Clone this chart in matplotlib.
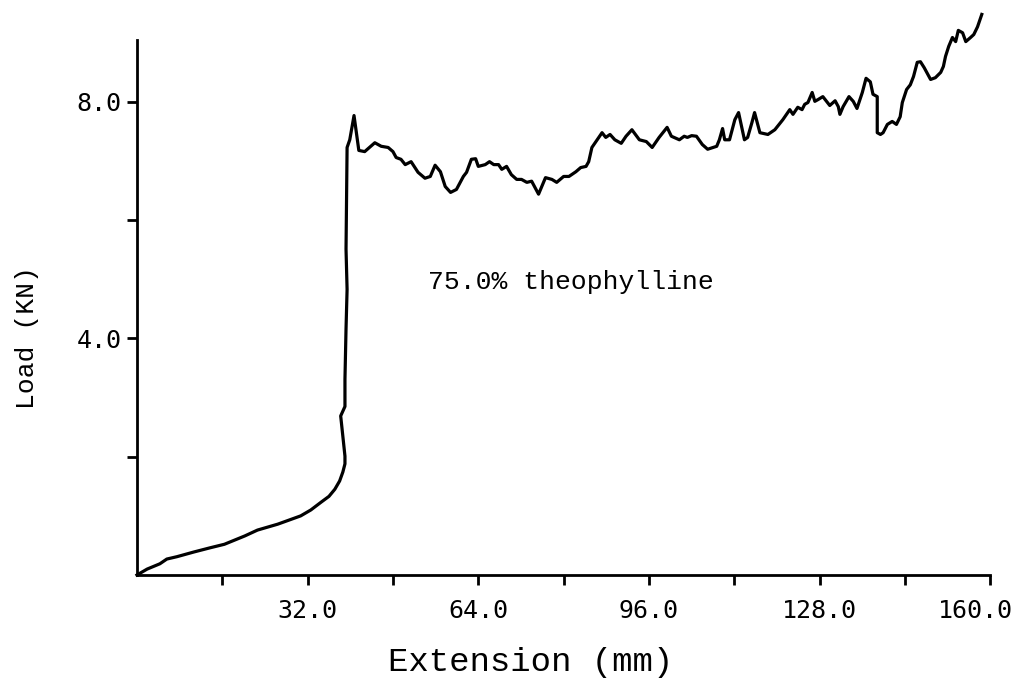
import matplotlib
matplotlib.use('Agg')
import matplotlib.pyplot as plt
from matplotlib.transforms import ScaledTranslation

# extension (mm) / load (kN)
extension = [0, 1.9, 4.3, 5.6, 7.5, 10.7, 13.7, 16.4, 20.2, 22.6, 26.4, 30.7, 32.6, 34.5,
             36.0, 37.1, 38.0, 38.6, 39.0, 39.0, 38.6,
             38.2, 39.0, 39.0, 39.2, 39.4, 39.2, 39.4, 39.9, 40.7, 41.6, 42.7, 44.6, 45.8,
             47.1, 48.0, 48.6, 49.5, 50.3, 51.4, 52.7, 54.0, 55.0, 55.9, 56.9, 57.8, 58.8,
             59.9, 61.2, 61.8, 62.7, 63.5, 64.0, 65.3, 66.1, 66.9, 67.8, 68.4, 69.3, 70.2,
             71.2, 72.1, 73.1, 74.0, 75.3, 76.6, 77.8, 78.7, 80.0, 81.0, 82.3, 83.2, 84.2,
             84.7, 85.3, 86.3, 87.2, 87.9, 88.7, 89.6, 90.8, 91.7, 92.8, 94.2, 95.5, 96.6,
             97.9, 99.4, 100.2, 101.7, 102.6, 103.2, 104.0, 104.9, 106.0, 107.0, 108.7,
             109.2, 109.8, 110.2, 111.1, 112.1, 112.8, 113.9, 114.5, 115.3, 115.8, 116.8,
             118.3, 119.6, 121.1, 122.4, 123.0, 123.9, 124.7, 125.2, 125.8, 126.6, 127.1,
             127.7, 128.6, 129.9, 130.9, 131.5, 131.8, 132.4, 133.5, 134.3, 135.0, 136.0,
             136.7, 137.5, 138.0, 138.8, 138.8, 139.4, 139.9, 140.7, 141.6, 142.4, 143.1,
             143.5, 144.3, 145.0, 145.6, 146.3, 146.9, 147.6, 148.8, 149.7, 150.7, 151.2,
             151.6, 152.2, 152.9, 153.5, 154.0, 154.8, 155.4, 156.3, 156.9, 157.6, 158.4]
load = [0, 0.10, 0.19, 0.27, 0.31, 0.39, 0.46, 0.52, 0.66, 0.76, 0.86, 1.00, 1.10, 1.23,
        1.33, 1.45, 1.59, 1.74, 1.88, 2.01, 2.35,
        2.69, 2.85, 3.31, 4.16, 4.83, 5.51, 7.23, 7.36, 7.77, 7.18, 7.16, 7.31, 7.25,
        7.23, 7.16, 7.06, 7.03, 6.94, 6.99, 6.81, 6.71, 6.74, 6.93, 6.82, 6.57, 6.47,
        6.52, 6.74, 6.81, 7.03, 7.04, 6.91, 6.94, 6.99, 6.94, 6.94, 6.86, 6.91, 6.77,
        6.69, 6.69, 6.64, 6.66, 6.44, 6.72, 6.69, 6.64, 6.74, 6.74, 6.82, 6.89, 6.91,
        6.99, 7.23, 7.36, 7.48, 7.40, 7.45, 7.36, 7.30, 7.42, 7.53, 7.36, 7.33, 7.23,
        7.40, 7.57, 7.42, 7.36, 7.42, 7.40, 7.43, 7.42, 7.28, 7.20, 7.25,
        7.36, 7.55, 7.36, 7.36, 7.70, 7.82, 7.36, 7.40, 7.65, 7.82, 7.48,
        7.45, 7.53, 7.70, 7.87, 7.79, 7.91, 7.87, 7.96, 7.99, 8.16, 8.01,
        8.04, 8.09, 7.94, 8.02, 7.92, 7.79, 7.92, 8.09, 8.01, 7.89, 8.16,
        8.40, 8.34, 8.13, 8.09, 7.48, 7.45, 7.48, 7.62, 7.67, 7.62, 7.75,
        7.99, 8.21, 8.29, 8.43, 8.67, 8.68, 8.58, 8.38, 8.41, 8.50, 8.60,
        8.77, 8.94, 9.09, 9.02, 9.21, 9.17, 9.02, 9.09, 9.14, 9.27, 9.48]

x_ticks = [16, 32, 48, 64, 80, 96, 112, 128, 144, 160]
x_labels = ['', '32.0', '', '64.0', '', '96.0', '', '128.0', '', '160.0']
y_ticks = [2, 4, 6, 8]
y_labels = ['', '4.0', '', '8.0']

fig = plt.figure(figsize=(10.22, 6.87), dpi=100)
ax = fig.add_axes([0.134, 0.163, 0.835, 0.779])

ax.plot(extension, load, color='black', lw=2.3, clip_on=False)

ax.set_xlim(0, 160)
ax.set_ylim(0, 9.05)
ax.spines['top'].set_visible(False)
ax.spines['right'].set_visible(False)
for s in ('left', 'bottom'):
    ax.spines[s].set_linewidth(2.0)

ax.set_xticks(x_ticks)
ax.set_xticklabels(x_labels, family='DejaVu Sans Mono', fontsize=18)
ax.set_yticks(y_ticks)
ax.set_yticklabels(y_labels, family='DejaVu Sans Mono', fontsize=18)
ax.tick_params(axis='x', direction='out', length=7, width=2, pad=10)
ax.tick_params(axis='y', direction='out', length=7, width=2, pad=4)

# the last label sits a little left of its tick, as in the original
last = ax.get_xticklabels()[-1]
last.set_transform(last.get_transform() + ScaledTranslation(-0.15, 0, fig.dpi_scale_trans))

ax.text(54.6, 4.95, '75.0% theophylline', family='Liberation Mono',
        fontsize=19, ha='left', va='center')
fig.text(0.519, 0.036, 'Extension (mm)', family='Liberation Mono',
         fontsize=24.5, ha='center', va='center')
fig.text(0.026, 0.509, 'Load (KN)', family='Liberation Mono',
         fontsize=19, ha='center', va='center', rotation=90)

plt.savefig('out.png', dpi=100)
